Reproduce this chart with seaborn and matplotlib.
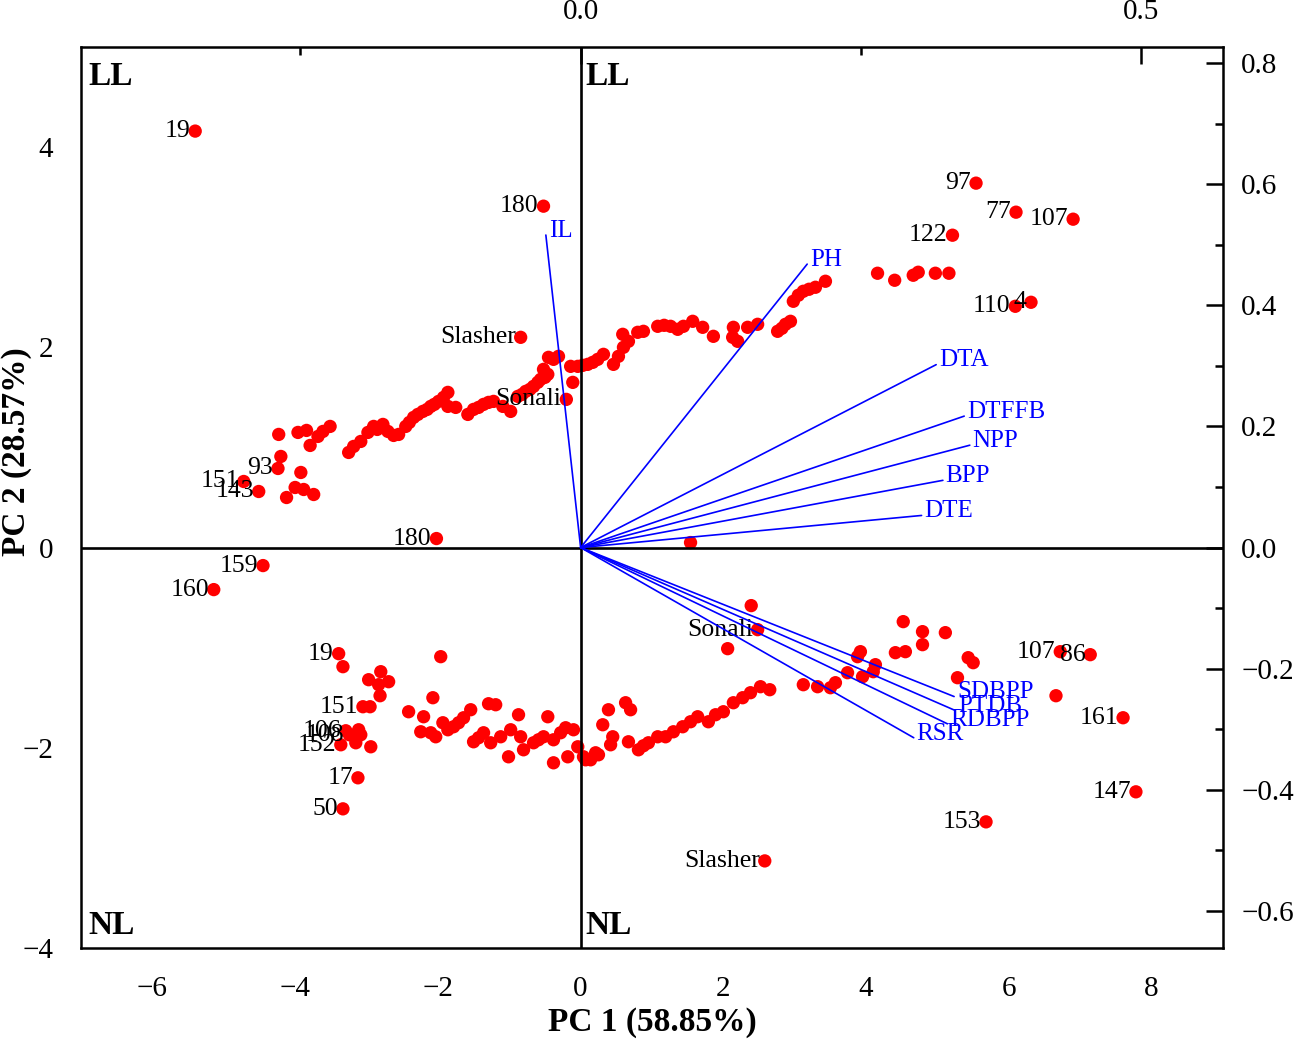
import matplotlib
matplotlib.use("Agg")
import matplotlib.pyplot as plt
import seaborn as sns
import pandas as pd
import numpy as np

# ---------------- data ----------------
# unlabeled genotype scores (PC1, PC2)
pc1_plain = [
    -4.23, -4.20, -3.96, -3.84, -3.79, -3.68, -3.61, -3.51, -3.92, -4.12, -4.00, -3.88, -3.74,
    -3.25, -3.18, -3.08, -2.98, -2.90, -2.85, -2.77, -2.70, -2.62, -2.55, -2.45, -2.40, -2.34,
    -2.28, -2.21, -2.15, -2.10, -2.05, -1.99, -1.92, -1.86, -1.86, -1.75, -1.58, -1.50, -1.43,
    -1.36, -1.29, -1.22, -1.09, -0.98, -0.88, -0.82, -0.77, -0.71, -0.66, -0.60, -0.56, -0.50,
    -0.46, -0.52, -0.45, -0.38, -0.31, -0.14, -0.11, -0.04, 0.03, 0.10, 0.17, 0.24, 0.32, 0.46,
    0.53, 0.60, 0.59, 0.67, 0.80, 0.88, 1.08, 1.17, 1.26, 1.36, 1.44, 1.57, 1.71, 1.86, 2.14,
    2.13, 2.20, 2.34, 2.48, 2.76, 2.82, 2.87, 2.94, 2.98, 3.05, 3.12, 3.20, 3.29, 3.43, 4.16,
    4.40, 4.66, 4.73, 4.97, 5.16, 1.54,
    -3.33, -2.80, -2.97, -2.83, -2.69, -2.81, -1.96, -2.95, -2.41, -2.07, -2.20, -2.24, -2.10,
    -2.03, -1.93, -1.86, -1.78, -1.71, -1.64, -1.54, -1.29, -1.19, -1.50, -1.43, -1.36, -1.26,
    -1.12, -0.98, -0.87, -0.84, -1.01, -0.80, -0.66, -0.59, -0.52, -0.46, -0.38, -0.38, -0.28,
    -0.21, -0.18, -0.10, -0.04, 0.04, 0.07, 0.14, 0.21, 0.25, 0.31, 0.39, 0.45, 0.42, 0.63, 0.70,
    0.67, 0.81, 0.88, 0.95, 1.08, 1.19, 1.30, 1.43, 1.54, 1.64, 1.79, 1.89, 2.00, 2.14, 2.27,
    2.38, 2.52, 2.65, 2.39, 2.06, 3.12, 3.32, 3.50, 3.57, 3.74, 3.88, 3.92, 3.95, 4.10, 4.13,
    4.41, 4.55, 4.52, 4.79, 4.79, 5.11, 5.43, 5.50, 5.28, 6.66, -3.11, -3.08, -2.94, -3.15,
]
pc2_plain = [
    1.13, 0.91, 1.15, 1.17, 1.02, 1.11, 1.16, 1.21, 0.75, 0.50, 0.60, 0.58, 0.53,
    0.95, 1.01, 1.06, 1.15, 1.21, 1.18, 1.23, 1.16, 1.12, 1.13, 1.21, 1.25, 1.30,
    1.33, 1.36, 1.38, 1.41, 1.43, 1.46, 1.50, 1.55, 1.41, 1.40, 1.33, 1.38, 1.40,
    1.43, 1.45, 1.46, 1.41, 1.36, 1.51, 1.53, 1.56, 1.58, 1.61, 1.65, 1.68, 1.70,
    1.73, 1.78, 1.90, 1.88, 1.91, 1.81, 1.65, 1.81, 1.82, 1.83, 1.85, 1.88, 1.93, 1.83,
    1.91, 2.00, 2.13, 2.06, 2.15, 2.16, 2.21, 2.22, 2.21, 2.18, 2.21, 2.26, 2.20, 2.11, 2.20,
    2.10, 2.06, 2.20, 2.23, 2.16, 2.19, 2.23, 2.26, 2.46, 2.52, 2.56, 2.58, 2.60, 2.66, 2.74,
    2.67, 2.72, 2.75, 2.74, 2.74, 0.05,
    -1.19, -1.24, -1.32, -1.37, -1.34, -1.48, -1.09, -1.59, -1.64, -1.50, -1.69, -1.84, -1.85,
    -1.89, -1.75, -1.82, -1.79, -1.75, -1.70, -1.62, -1.56, -1.57, -1.94, -1.90, -1.85, -1.95,
    -1.89, -1.82, -1.67, -1.89, -2.09, -2.02, -1.95, -1.92, -1.89, -1.69, -1.92, -2.15, -1.85,
    -1.80, -2.09, -1.82, -1.99, -2.09, -2.12, -2.12, -2.05, -2.07, -1.77, -1.62, -1.89, -1.97, -1.55, -1.62,
    -1.94, -2.02, -1.98, -1.95, -1.89, -1.89, -1.84, -1.79, -1.74, -1.69, -1.74, -1.67, -1.64, -1.55, -1.50,
    -1.45, -1.39, -1.42, -0.58, -1.01, -1.37, -1.39, -1.40, -1.35, -1.25, -1.09, -1.04, -1.29, -1.24, -1.17,
    -1.05, -1.04, -0.74, -0.97, -0.84, -0.85, -1.10, -1.15, -1.30, -1.48, -1.82, -1.87, -1.99, -1.95,
]

# labeled genotypes
lab_text = ["19", "180", "Slasher", "Sonali", "151", "143", "93", "180", "159", "160",
            "97", "77", "107", "122", "110", "4",
            "19", "151", "106", "108", "152", "17", "50", "Sonali", "Slasher",
            "153", "147", "161", "107", "86"]
lab_pc1 = [-5.40, -0.52, -0.84, -0.20, -4.72, -4.51, -4.24, -2.02, -4.45, -5.14,
           5.54, 6.10, 6.90, 5.21, 6.09, 6.31,
           -3.39, -3.05, -3.29, -3.24, -3.36, -3.12, -3.33, 2.48, 2.58,
           5.68, 7.78, 7.60, 6.72, 7.14]
lab_pc2 = [4.16, 3.41, 2.10, 1.48, 0.66, 0.56, 0.79, 0.09, -0.18, -0.42,
           3.64, 3.35, 3.28, 3.12, 2.41, 2.45,
           -1.06, -1.59, -1.83, -1.87, -1.97, -2.30, -2.61, -0.82, -3.13,
           -2.74, -2.44, -1.70, -1.04, -1.07]

# trait loadings (top / right axes)
traits = ["IL", "PH", "DTA", "DTFFB", "NPP", "BPP", "DTE", "SDBPP", "PTDB", "RDBPP", "RSR"]
load1 = [-0.031, 0.202, 0.317, 0.342, 0.347, 0.323, 0.304, 0.333, 0.334, 0.327, 0.297]
load2 = [0.516, 0.468, 0.302, 0.217, 0.169, 0.111, 0.053, -0.246, -0.269, -0.291, -0.314]

quad_text = ["LL", "LL", "NL", "NL"]

# ---------------- figure ----------------
sns.set_style("white")
plt.rcParams["font.family"] = ["Liberation Serif", "DejaVu Serif"]
plt.rcParams["axes.unicode_minus"] = True
for k in ["text.color", "axes.labelcolor", "xtick.color", "ytick.color", "axes.edgecolor"]:
    plt.rcParams[k] = "black"

fig = plt.figure(figsize=(12.99, 10.44), dpi=100)
L, R, B, T = 81 / 1299, 1223 / 1299, (1044 - 948) / 1044, (1044 - 47) / 1044
ax = fig.add_axes([L, B, R - L, T - B])

df = pd.DataFrame({"PC1": pc1_plain + lab_pc1, "PC2": pc2_plain + lab_pc2})
sns.scatterplot(data=df, x="PC1", y="PC2", ax=ax, color="#ff0000", s=92,
                edgecolor="none", zorder=2, legend=False)

for t, x, y in zip(lab_text, lab_pc1, lab_pc2):
    ax.annotate(t, (x, y), xytext=(-3.5, 0), textcoords="offset points",
                ha="right", va="center", fontsize=18.5, color="black", zorder=4)

ax.set_xlim(-7, 9)
ax.set_ylim(-4, 5)
ax.axhline(0, color="black", lw=1.9, zorder=3)
ax.axvline(0, color="black", lw=1.9, zorder=3)

ax.set_xticks(np.arange(-6, 9, 2))
ax.set_xticks(np.arange(-7, 10, 2), minor=True)
ax.set_yticks(np.arange(-4, 5, 2))
ax.set_yticks(np.arange(-3, 6, 2), minor=True)
ax.tick_params(axis="both", which="major", direction="out", length=12, width=1.8,
               labelsize=21, color="black", labelcolor="black")
ax.tick_params(axis="both", which="minor", direction="out", length=6, width=1.8, color="black")
ax.tick_params(axis="x", which="major", pad=8)
ax.tick_params(axis="y", which="major", pad=8)
for sp in ax.spines.values():
    sp.set_linewidth(1.8)
    sp.set_color("black")

ax.set_xlabel("PC 1 (58.85%)", fontsize=24, fontweight="bold", color="black")
ax.xaxis.set_label_coords(0.50, -0.066)
ax.set_ylabel("")
fig.text(17 / 1299, 1 - 452 / 1044, "PC 2 (28.57%)", rotation=90, fontsize=24,
         fontweight="bold", ha="center", va="center", color="black")

# quadrant labels
qx = [-6.9, 0.07, -6.9, 0.07]
qy = [4.62, 4.62, -3.86, -3.86]
for t, x, y in zip(quad_text, qx, qy):
    ax.text(x, y, t, fontsize=24, fontweight="bold", ha="left", va="baseline", zorder=4)

# loadings axes (top / right)
fmt = matplotlib.ticker.FuncFormatter(lambda v, p: f"{v:.1f}".replace("-", "\u2212"))
ax2 = fig.add_axes(ax.get_position(), frameon=False)
ax2.set_xlim(-7 * 0.06364, 9 * 0.06364)
ax2.set_ylim(-4 * 0.1653, 5 * 0.1653)
ax2.xaxis.tick_top()
ax2.yaxis.tick_right()
ax2.set_xticks([0.0, 0.5])
ax2.set_xticks([-0.25, 0.25], minor=True)
ax2.set_yticks(np.round(np.arange(-0.6, 0.81, 0.2), 1))
ax2.set_yticks(np.round(np.arange(-0.5, 0.71, 0.2), 1), minor=True)
ax2.xaxis.set_major_formatter(fmt)
ax2.yaxis.set_major_formatter(fmt)
ax2.tick_params(axis="both", which="major", direction="in", length=12, width=1.8,
                labelsize=21, color="black", labelcolor="black")
ax2.tick_params(axis="both", which="minor", direction="in", length=6, width=1.8, color="black")
ax2.tick_params(axis="x", which="major", pad=16)
ax2.tick_params(axis="y", which="major", pad=13)
ax2.patch.set_visible(False)

for t, lx, ly in zip(traits, load1, load2):
    ax2.plot([0, lx], [0, ly], color="#0000ff", lw=1.2, zorder=3)
    ax2.annotate(t, (lx, ly), xytext=(2, 3), textcoords="offset points",
                 ha="left", va="center", fontsize=18, color="#0000ff", zorder=4)

fig.savefig("out.png", dpi=100)
